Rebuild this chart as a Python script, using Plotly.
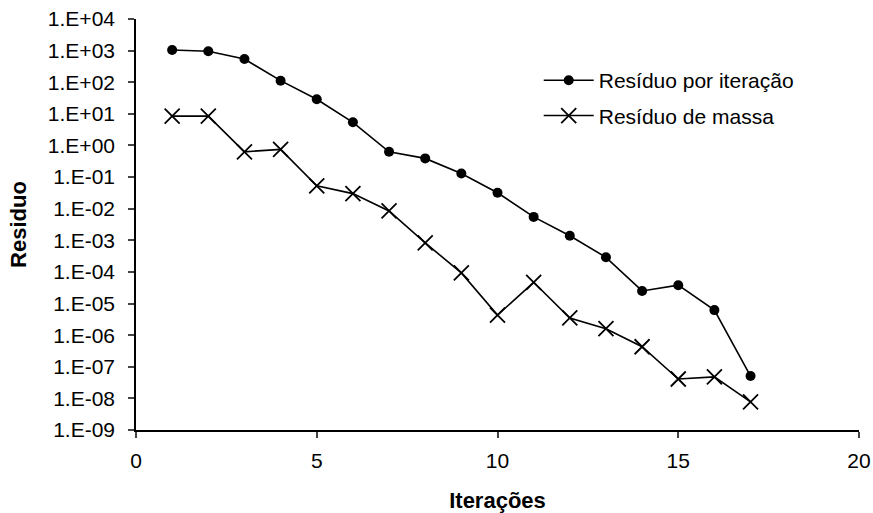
import plotly.graph_objects as go

iteracoes = list(range(1, 18))
residuo_iteracao = [1050, 950, 540, 112, 29, 5.4, 0.63, 0.39, 0.13, 0.032, 0.0055, 0.0014,
                    2.9e-4, 2.5e-5, 3.8e-5, 6.2e-6, 5.1e-8]
residuo_massa = [8.5, 8.5, 0.63, 0.75, 0.053, 0.030, 0.0085, 8.3e-4, 9.3e-5, 4.3e-6, 4.7e-5,
                 3.5e-6, 1.6e-6, 4.3e-7, 4.1e-8, 4.8e-8, 7.8e-9]
y_exps = list(range(-9, 5))
y_ticktext = ["1.E%s%02d" % ("+" if e >= 0 else "-", abs(e)) for e in y_exps]
x_ticks = [0, 5, 10, 15, 20]

font = "Liberation Sans, Arial, sans-serif"

fig = go.Figure()
fig.add_trace(go.Scatter(x=iteracoes, y=residuo_iteracao, mode="lines+markers",
                         name="Resíduo por iteração", legendgroup="a",
                         line=dict(color="black", width=1.6),
                         marker=dict(symbol="circle", size=10, color="black")))
fig.add_trace(go.Scatter(x=iteracoes, y=residuo_massa, mode="lines+markers",
                         name="Resíduo de massa", legendgroup="b",
                         line=dict(color="black", width=1.6),
                         marker=dict(symbol="x-thin-open", size=15, color="black",
                                     line=dict(color="black", width=1.8))))

fig.update_layout(
    width=873, height=513,
    margin=dict(l=136, r=14, t=19, b=83),
    paper_bgcolor="white", plot_bgcolor="white",
    font=dict(family=font, size=21, color="black"),
    showlegend=True,
    legend=dict(x=0.557, y=0.9, xanchor="left", yanchor="top",
                bgcolor="rgba(0,0,0,0)", font=dict(size=21, family=font),
                tracegroupgap=5, itemwidth=50),
    xaxis=dict(range=[0, 20], tickvals=x_ticks, ticks="outside", ticklen=6,
               tickwidth=1.6, showline=True, linecolor="black", linewidth=1.6,
               showgrid=False, zeroline=False, automargin=False,
               ticklabelstandoff=5, ticklabeloverflow="allow",
               title=dict(text="<b>Iterações</b>", font=dict(size=22), standoff=28),
               tickfont=dict(size=21)),
    yaxis=dict(type="log", range=[-9, 4], tickvals=[10.0 ** e for e in y_exps],
               ticktext=y_ticktext, ticks="outside", ticklen=6, tickwidth=1.6,
               showline=True, linecolor="black", linewidth=1.6,
               showgrid=False, zeroline=False, automargin=False,
               ticklabelstandoff=9, ticklabeloverflow="allow",
               title=dict(text="<b>Residuo</b>", font=dict(size=22), standoff=15),
               tickfont=dict(size=21)),
)

# remove the default page margin so the figure fills the window exactly
fig.write_html("out.html", config={"displayModeBar": False},
               post_script="document.body.style.margin='0';")
